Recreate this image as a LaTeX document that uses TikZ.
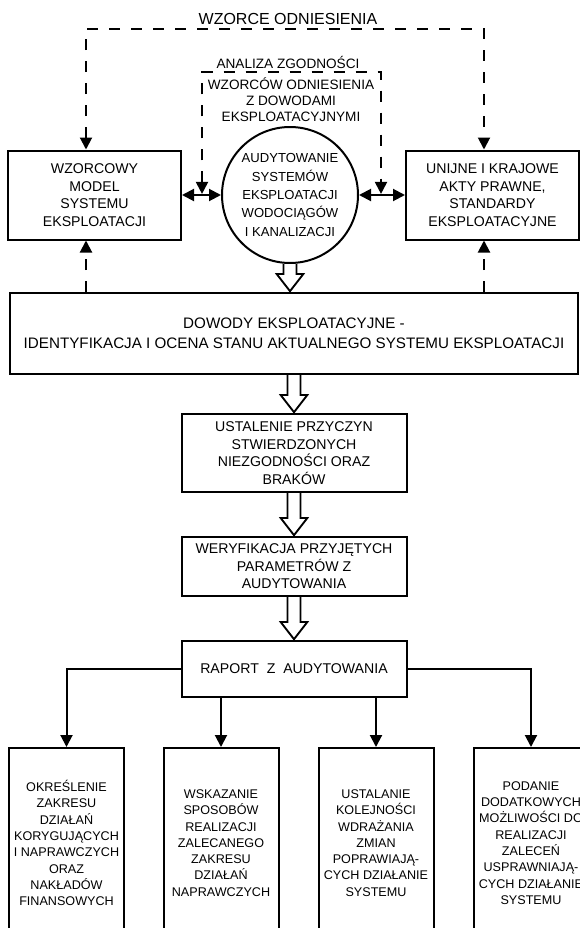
\documentclass[tikz,border=0pt]{standalone}
\usepackage{fontspec}
\setmainfont{Liberation Sans}
\usepackage{tikz}
\usetikzlibrary{positioning, shapes.geometric, arrows.meta, calc}

% wide open arrow between two stages
\newcommand{\hollowarrow}[2]{%
  \draw[line width=1.4pt, fill=white, line join=miter] let \p1=(#1), \p2=(#2) in
    (\x1-4.9pt,\y1) -- (\x1-4.9pt,\y2+13.5pt) -- (\x1-10pt,\y2+13.5pt) -- (\x1,\y2+0.6pt)
    -- (\x1+10pt,\y2+13.5pt) -- (\x1+4.9pt,\y2+13.5pt) -- (\x1+4.9pt,\y1);}

\begin{document}
\begin{tikzpicture}[
    x=0.75pt, y=-0.75pt,
    line width=1.5pt,
    >={Triangle[length=9pt, width=9pt]},
    box/.style={rectangle, draw, line width=1.5pt, inner sep=0pt, align=center, font=\fontsize{10.6}{13.1}\selectfont},
    sidebox/.style={box, minimum width=129.75pt, minimum height=66.75pt},
    midbox/.style={box, minimum width=168.75pt},
    lowbox/.style={box, minimum width=86.25pt, minimum height=142.5pt, font=\fontsize{9.45}{12.2}\selectfont},
    audit/.style={circle, draw, line width=1.5pt, minimum size=102pt, inner sep=0pt, align=center, font=\fontsize{9.8}{13.7}\selectfont},
    tag/.style={inner sep=0pt, align=center, font=\fontsize{10.2}{12}\selectfont},
    reflink/.style={dash pattern=on 8.5pt off 8pt}
]
\useasboundingbox (0,0) rectangle (580,928);
\clip (0,0) rectangle (580,928);

% Audit (centre)
\node[audit] (audyt) at (290,195) {AUDYTOWANIE\\SYSTEMÓW\\EKSPLOATACJI\\WODOCIĄGÓW\\I KANALIZACJI};

% Reference boxes
\node[sidebox, left=29.25pt of audyt] (wzorzec) {WZORCOWY\\MODEL\\SYSTEMU\\EKSPLOATACJI};
\node[sidebox, right=34.5pt of audyt] (akty) {UNIJNE I KRAJOWE\\AKTY PRAWNE,\\STANDARDY\\EKSPLOATACYJNE};

% Main column
\node[box, minimum width=426pt, minimum height=60.75pt, font=\fontsize{11.4}{15}\selectfont] (dowody) at (294,333.5)
    {DOWODY EKSPLOATACYJNE -\\IDENTYFIKACJA I OCENA STANU AKTUALNEGO SYSTEMU EKSPLOATACJI};
\node[midbox, minimum height=58.5pt, below=28.5pt of dowody] (przyczyny) {USTALENIE PRZYCZYN\\STWIERDZONYCH\\NIEZGODNOŚCI ORAZ\\BRAKÓW};
\node[midbox, minimum height=44.25pt, below=32.25pt of przyczyny] (weryfikacja) {WERYFIKACJA PRZYJĘTYCH\\PARAMETRÓW Z\\AUDYTOWANIA};
\node[midbox, minimum height=42pt, below=32.25pt of weryfikacja] (raport) {RAPORT\ \ Z\ \ AUDYTOWANIA};

% Recommendations
\node[lowbox] (zakres) at (66.5,843) {OKREŚLENIE\\ZAKRESU\\DZIAŁAŃ\\KORYGUJĄCYCH\\I NAPRAWCZYCH\\ORAZ\\NAKŁADÓW\\FINANSOWYCH};
\node[lowbox] (sposoby) at (221,843) {WSKAZANIE\\SPOSOBÓW\\REALIZACJI\\ZALECANEGO\\ZAKRESU\\DZIAŁAŃ\\NAPRAWCZYCH};
\node[lowbox] (kolejnosc) at (376,843) {USTALANIE\\KOLEJNOŚCI\\WDRAŻANIA\\ZMIAN\\POPRAWIAJĄ-\\CYCH DZIAŁANIE\\SYSTEMU};
\node[lowbox] (mozliwosci) at (531,843) {PODANIE\\DODATKOWYCH\\MOŻLIWOŚCI DO\\REALIZACJI\\ZALECEŃ\\USPRAWNIAJĄ-\\CYCH DZIAŁANIE\\SYSTEMU};

% Labels
\node[tag, font=\fontsize{12}{14}\selectfont] (wzorce) at (288,19) {WZORCE ODNIESIENIA};
\node[tag] (analiza) at (288,62) {ANALIZA ZGODNOŚCI};
\node[tag] (porownanie) at (291,99.5) {WZORCÓW ODNIESIENIA\\Z DOWODAMI\\EKSPLOATACYJNYMI};

% Dashed links
\coordinate (wl) at (86,29);
\coordinate (wr) at (484,29);
\coordinate (al) at (202,72);
\coordinate (ar) at (381,72);
\draw[reflink, <->] (wl |- wzorzec.north) -- (wl) -- (wr) -- (wr |- akty.north);
\draw[reflink, ->] (wl |- dowody.north) -- (wl |- wzorzec.south);
\draw[reflink, ->] (wr |- dowody.north) -- (wr |- akty.south);
\draw[reflink, <->, shorten <=0.8pt, shorten >=0.8pt] (al |- audyt.center) -- (al) -- (ar) -- (ar |- audyt.center);

% Edges
\draw[<->] (wzorzec.east) -- (audyt.west);
\draw[<->] (audyt.east) -- (akty.west);
\hollowarrow{audyt.south}{dowody.north}
\hollowarrow{dowody.south}{przyczyny.north}
\hollowarrow{przyczyny.south}{weryfikacja.north}
\hollowarrow{weryfikacja.south}{raport.north}
\draw[->] (raport.west) -| (zakres.north);
\draw[->] (raport.south -| sposoby.north) -- (sposoby.north);
\draw[->] (raport.south -| kolejnosc.north) -- (kolejnosc.north);
\draw[->] (raport.east) -| (mozliwosci.north);

\end{tikzpicture}
\end{document}
